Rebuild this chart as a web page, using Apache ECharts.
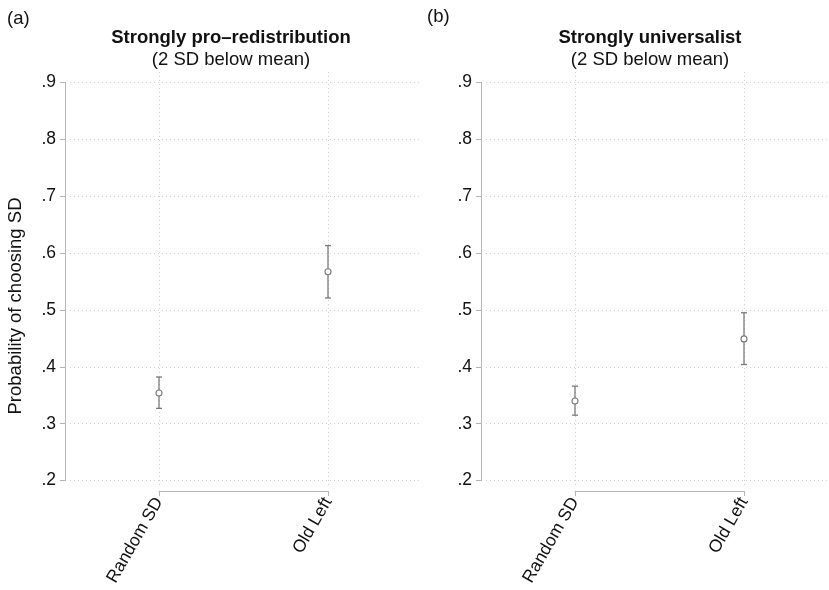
<!DOCTYPE html>
<html>
<head>
<meta charset="utf-8">
<script src="https://cdn.jsdelivr.net/npm/echarts@6/dist/echarts.min.js"></script>
<style>html,body{margin:0;padding:0;background:#fff}#c{width:829px;height:590px}</style>
</head>
<body>
<div id="c"></div>
<script>
const categories = ['Random SD', 'Old Left'];
const yTicks = [0.2, 0.3, 0.4, 0.5, 0.6, 0.7, 0.8, 0.9];

const panelA_est = [0.354, 0.567];
const panelA_lo  = [0.327, 0.521];
const panelA_hi  = [0.382, 0.613];

const panelB_est = [0.340, 0.449];
const panelB_lo  = [0.315, 0.404];
const panelB_hi  = [0.366, 0.495];

const FONT = "'Liberation Sans', Arial, Helvetica, sans-serif";
const GRID_COL = '#cfcfcf';
const AXIS_COL = '#b5b5b5';
const MARK_COL = '#7a7a7a';
const TXT = '#111';

const chart = echarts.init(document.getElementById('c'), null, {renderer: 'canvas'});

const yMin = yTicks[0], yMax = yTicks[yTicks.length - 1];
const pxPerUnit = (480.6 - 82.3) / (yMax - yMin);
const bMax = yMax + (82.3 - 72) / pxPerUnit;
const bMin = yMin - (485 - 480.6) / pxPerUnit;

function fmt(v) { return v.toFixed(1).replace(/^0/, ''); }

function rows(est, lo, hi) {
  return categories.map((c, i) => [i, est[i], lo[i], hi[i]]);
}

function renderErr(params, api) {
  const p = api.coord([api.value(0), api.value(1)]);
  const l = api.coord([api.value(0), api.value(2)]);
  const h = api.coord([api.value(0), api.value(3)]);
  const st = {stroke: MARK_COL, lineWidth: 1.3, fill: null};
  const cw = 3;
  return {
    type: 'group',
    children: [
      {type: 'line', shape: {x1: l[0], y1: l[1], x2: h[0], y2: h[1]}, style: st},
      {type: 'line', shape: {x1: l[0] - cw, y1: l[1], x2: l[0] + cw, y2: l[1]}, style: st},
      {type: 'line', shape: {x1: h[0] - cw, y1: h[1], x2: h[0] + cw, y2: h[1]}, style: st},
      {type: 'circle', shape: {cx: p[0], cy: p[1], r: 3}, style: {stroke: MARK_COL, lineWidth: 1.1, fill: '#fff'}}
    ]
  };
}

const gridsA = [
  {left: 70, right: 829 - 422, top: 82.3, bottom: 590 - 480.6},
  {left: 486, right: 1, top: 82.3, bottom: 590 - 480.6}
];
const gridsB = [
  {left: 159, right: 829 - 328, top: 72, bottom: 590 - 485},
  {left: 575, right: 829 - 744, top: 72, bottom: 590 - 485}
];

const grid = [...gridsA, ...gridsB];
const xAxis = [], yAxis = [], series = [];

for (let i = 0; i < 2; i++) {
  xAxis.push({gridIndex: i, type: 'value', show: false, min: 0, max: 1});
  yAxis.push({
    gridIndex: i, type: 'value', min: yMin, max: yMax, interval: 0.1,
    offset: 5,
    axisLine: {show: true, onZero: false, lineStyle: {color: AXIS_COL, width: 1}},
    axisTick: {show: true, length: 5, lineStyle: {color: AXIS_COL}},
    axisLabel: {formatter: fmt, fontFamily: FONT, fontSize: 17.5, color: TXT, margin: 9},
    splitLine: {show: true, lineStyle: {color: GRID_COL, type: [1, 3], width: 1}}
  });
}
for (let i = 2; i < 4; i++) {
  xAxis.push({
    gridIndex: i, type: 'category', data: categories, boundaryGap: false,
    offset: 6,
    axisLine: {show: true, onZero: false, lineStyle: {color: AXIS_COL, width: 1}},
    axisTick: {show: true, length: 5, alignWithLabel: true, lineStyle: {color: AXIS_COL}},
    axisLabel: {rotate: 60, fontFamily: FONT, fontSize: 17.5, color: TXT, margin: 8, interval: 0},
    splitLine: {show: true, lineStyle: {color: GRID_COL, type: [1, 3], width: 1}}
  });
  yAxis.push({gridIndex: i, type: 'value', min: bMin, max: bMax, show: false, splitLine: {show: false}});
}

series.push({
  type: 'custom', xAxisIndex: 2, yAxisIndex: 2, renderItem: renderErr,
  data: rows(panelA_est, panelA_lo, panelA_hi), encode: {x: 0, y: [1, 2, 3]}, z: 5
});
series.push({
  type: 'custom', xAxisIndex: 3, yAxisIndex: 3, renderItem: renderErr,
  data: rows(panelB_est, panelB_lo, panelB_hi), encode: {x: 0, y: [1, 2, 3]}, z: 5
});

const TS = 18.5;
const title = [
  {text: '(a)', left: 2, top: 4, textStyle: {fontFamily: FONT, fontSize: TS, fontWeight: 'normal', color: TXT}},
  {text: '(b)', left: 422, top: 2, textStyle: {fontFamily: FONT, fontSize: TS, fontWeight: 'normal', color: TXT}},
  {text: 'Strongly pro\u2013redistribution', left: 226, top: 23, textAlign: 'center',
   textStyle: {fontFamily: FONT, fontSize: TS, fontWeight: 'bold', color: TXT}},
  {text: '(2 SD below mean)', left: 226, top: 45.5, textAlign: 'center',
   textStyle: {fontFamily: FONT, fontSize: TS, fontWeight: 'normal', color: TXT}},
  {text: 'Strongly universalist', left: 645, top: 23, textAlign: 'center',
   textStyle: {fontFamily: FONT, fontSize: TS, fontWeight: 'bold', color: TXT}},
  {text: '(2 SD below mean)', left: 645, top: 45.5, textAlign: 'center',
   textStyle: {fontFamily: FONT, fontSize: TS, fontWeight: 'normal', color: TXT}}
];

chart.setOption({
  backgroundColor: '#fff',
  animation: false,
  title,
  grid,
  xAxis,
  yAxis,
  series,
  graphic: [{
    type: 'text', x: 16, y: 306, rotation: Math.PI / 2, originX: 0, originY: 0,
    style: {text: 'Probability of choosing SD', font: '18.5px ' + FONT, fill: TXT, align: 'center', verticalAlign: 'middle'}
  }]
});
</script>
</body>
</html>
